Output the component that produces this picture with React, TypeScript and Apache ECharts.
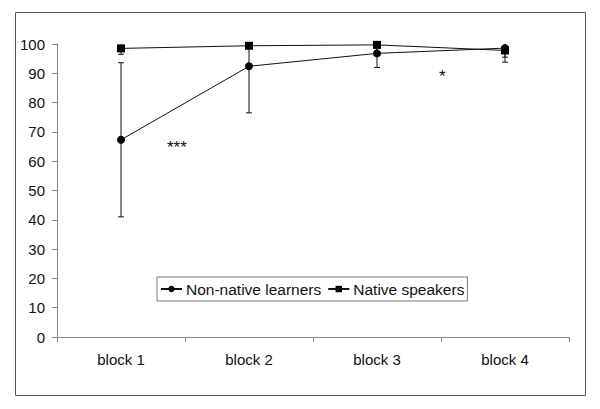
import React, { useEffect, useRef } from "react";
import * as echarts from "echarts";

const categories = ["block 1", "block 2", "block 3", "block 4"];
const nonNativeMean = [67.3, 92.4, 96.8, 98.6];
const nonNativeLow = [41, 76.5, 92, 95.5];
const nonNativeHigh = [93.6, 108.3, 101.6, 101.7];
const nativeMean = [98.5, 99.4, 99.7, 97.8];
const nativeLow = [96.5, 98.5, 99.2, 93.8];
const nativeHigh = [100.5, 100.3, 100.2, 101.8];
const yTicks = { min: 0, max: 100, interval: 10 };

const FONT = "Liberation Sans, Arial, sans-serif";

function errorSeries(low: number[], high: number[]) {
  return {
    type: "custom",
    clip: true,
    silent: true,
    z: 1,
    data: low.map((l, i) => [i, l, high[i]]),
    renderItem: (params: any, api: any) => {
      const i = api.value(0);
      const lo = api.coord([i, api.value(1)]);
      const hi = api.coord([i, api.value(2)]);
      const w = 3;
      const style = { stroke: "#111", lineWidth: 1 };
      return {
        type: "group",
        children: [
          { type: "line", shape: { x1: lo[0], y1: lo[1], x2: hi[0], y2: hi[1] }, style },
          { type: "line", shape: { x1: lo[0] - w, y1: lo[1], x2: lo[0] + w, y2: lo[1] }, style },
          { type: "line", shape: { x1: hi[0] - w, y1: hi[1], x2: hi[0] + w, y2: hi[1] }, style },
        ],
      };
    },
  };
}

export default function App() {
  const ref = useRef<HTMLDivElement>(null);
  useEffect(() => {
    document.body.style.margin = "0";
    const chart = echarts.init(ref.current!, null, { renderer: "svg" });
    chart.setOption({
      animation: false,
      backgroundColor: "#fff",
      textStyle: { fontFamily: FONT },
      grid: { left: 57, right: 31, top: 44, bottom: 72 },
      xAxis: {
        type: "category",
        data: categories,
        boundaryGap: true,
        axisLine: { lineStyle: { color: "#888", width: 1 } },
        axisTick: { show: true, length: 5, inside: false, lineStyle: { color: "#888" } },
        axisLabel: { color: "#111", fontSize: 15, fontFamily: FONT, margin: 15 },
      },
      yAxis: {
        type: "value",
        min: yTicks.min,
        max: yTicks.max,
        interval: yTicks.interval,
        splitLine: { show: false },
        axisLine: { show: true, lineStyle: { color: "#888", width: 1 } },
        axisTick: { show: true, length: 5, lineStyle: { color: "#888" } },
        axisLabel: { color: "#111", fontSize: 15, fontFamily: FONT, margin: 12 },
      },
      legend: {
        left: 157,
        top: 277,
        orient: "horizontal",
        borderColor: "#777",
        borderWidth: 1,
        padding: [4, 3, 4, 3],
        itemGap: 6,
        itemWidth: 21,
        itemHeight: 8,
        textStyle: { color: "#111", fontSize: 15.5, fontFamily: FONT, padding: [0, 0, 0, -1] },
        data: [
          { name: "Non-native learners" },
          { name: "Native speakers" },
        ],
      },
      graphic: [
        {
          type: "rect",
          shape: { x: 15.5, y: 12.5, width: 570, height: 383 },
          style: { fill: "none", stroke: "#555", lineWidth: 1 },
          silent: true,
          z: -1,
        },
        {
          type: "text",
          x: 167,
          y: 139,
          style: { text: "***", fontSize: 17, fontFamily: FONT, fill: "#111" },
        },
        {
          type: "text",
          x: 439,
          y: 68,
          style: { text: "*", fontSize: 17, fontFamily: FONT, fill: "#111" },
        },
      ],
      series: [
        errorSeries(nonNativeLow, nonNativeHigh),
        errorSeries(nativeLow, nativeHigh),
        {
          name: "Non-native learners",
          type: "line",
          data: nonNativeMean,
          symbol: "circle",
          symbolSize: 8,
          z: 3,
          itemStyle: { color: "#000" },
          lineStyle: { color: "#111", width: 1 },
        },
        {
          name: "Native speakers",
          type: "line",
          data: nativeMean,
          symbol: "rect",
          symbolSize: 8,
          z: 3,
          itemStyle: { color: "#000" },
          lineStyle: { color: "#111", width: 1 },
        },
      ],
    });
    return () => chart.dispose();
  }, []);
  return <div ref={ref} style={{ width: 600, height: 409 }} />;
}
